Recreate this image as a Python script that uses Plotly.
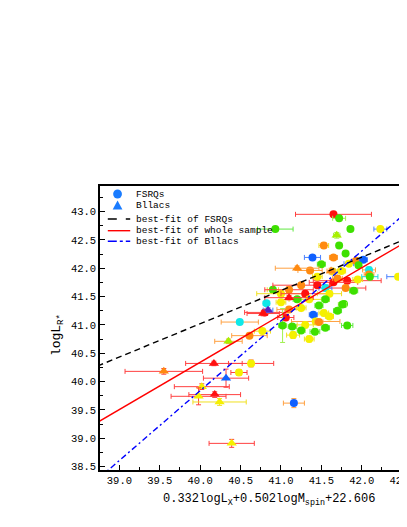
import numpy as np
import plotly.graph_objects as go

# ---------------- data ----------------
# FSRQs (circles)
fsrq_x = [41.65, 41.72, 40.93, 41.86, 42.23, 41.53, 41.72, 41.39, 41.65, 41.80,
          41.50, 41.36, 41.64, 41.84, 41.93, 42.02, 42.09, 42.09, 42.45, 41.96,
          41.82, 41.80, 41.78, 41.82, 41.40, 41.47, 41.76, 41.53, 41.06, 41.42,
          41.43, 41.47, 41.15, 40.82, 40.80, 40.90, 40.49, 40.61, 40.77, 41.02,
          41.14, 40.63, 40.48, 41.16, 41.00, 41.10, 41.25, 41.30, 41.35, 41.20,
          41.55, 41.60, 41.65, 41.70, 41.45, 41.55, 41.10, 41.25, 41.60, 41.70,
          41.30, 41.55, 41.35, 41.25, 41.90, 41.95, 42.10, 41.75, 41.45, 41.00]
fsrq_y = [42.95, 42.88, 42.69, 42.69, 42.69, 42.40, 42.40, 42.19, 42.19, 42.26,
          42.07, 41.96, 41.94, 42.08, 42.13, 42.15, 41.97, 41.89, 41.85, 42.05,
          41.78, 41.65, 41.37, 40.99, 41.18, 41.34, 41.36, 41.21, 41.13, 40.88,
          41.06, 41.05, 40.82, 41.38, 41.22, 41.62, 41.05, 40.81, 40.89, 40.99,
          40.97, 40.32, 40.16, 39.62, 41.55, 41.62, 41.70, 41.55, 41.45, 41.45,
          41.65, 41.55, 41.75, 41.82, 41.85, 41.45, 41.27, 41.30, 41.15, 41.25,
          41.00, 40.95, 40.75, 40.90, 41.60, 41.80, 41.85, 41.95, 41.70, 41.40]
fsrq_xerr = [0.47, 0.08, 0.22, 0.02, 0.08, 0.06, 0.03, 0.10, 0.05, 0.03,
             0.05, 0.15, 0.04, 0.06, 0.05, 0.05, 0.08, 0.06, 0.14, 0.03,
             0.42, 0.25, 0.03, 0.07, 0.05, 0.05, 0.05, 0.06, 0.10, 0.06,
             0.30, 0.05, 0.08, 0.04, 0.25, 0.07, 0.23, 0.22, 0.10, 0.05,
             0.05, 0.28, 0.10, 0.13, 0.30, 0.30, 0.35, 0.30, 0.25, 0.05,
             0.08, 0.15, 0.30, 0.06, 0.06, 0.05, 0.15, 0.06, 0.05, 0.05,
             0.10, 0.05, 0.06, 0.05, 0.05, 0.06, 0.10, 0.05, 0.04, 0.06]
fsrq_yerr = [0.05, 0.04, 0.02, 0.02, 0.04, 0.05, 0.03, 0.03, 0.04, 0.03,
             0.03, 0.04, 0.05, 0.04, 0.03, 0.03, 0.05, 0.04, 0.03, 0.03,
             0.05, 0.04, 0.03, 0.04, 0.03, 0.04, 0.03, 0.05, 0.04, 0.04,
             0.05, 0.04, 0.06, 0.03, 0.05, 0.04, 0.04, 0.04, 0.04, 0.30,
             0.04, 0.06, 0.05, 0.08, 0.04, 0.05, 0.04, 0.05, 0.04, 0.04,
             0.05, 0.04, 0.04, 0.05, 0.04, 0.04, 0.04, 0.04, 0.04, 0.04,
             0.05, 0.04, 0.05, 0.04, 0.04, 0.04, 0.04, 0.04, 0.04, 0.04]
# colour classes: 0 red, 1 orange, 2 yellow, 3 yellow-green, 4 green, 5 cyan, 6 blue, 7 purple
fsrq_cls = [0, 4, 4, 4, 2, 1, 4, 6, 1, 4,
            4, 1, 2, 2, 1, 6, 5, 1, 2, 4,
            0, 1, 4, 4, 6, 4, 4, 2, 0, 4,
            2, 1, 2, 5, 0, 4, 5, 1, 2, 4,
            4, 2, 2, 6, 2, 1, 1, 0, 2, 4,
            5, 2, 0, 1, 2, 4, 1, 2, 2, 4,
            2, 4, 2, 4, 4, 2, 4, 2, 0, 2]
fsrq_ecls = [0, 3, 4, 4, 6, 2, 4, 6, 1, 3,
             4, 1, 2, 6, 1, 6, 1, 1, 6, 4,
             0, 0, 4, 4, 6, 4, 3, 2, 0, 4,
             1, 1, 2, 5, 0, 2, 1, 1, 2, 3,
             4, 0, 0, 1, 2, 0, 0, 0, 2, 4,
             6, 2, 0, 1, 2, 3, 1, 2, 2, 4,
             2, 4, 2, 3, 4, 2, 5, 2, 0, 2]

# BL Lacs (triangles)
bll_x = [41.20, 41.69, 40.35, 40.17, 39.55, 40.32, 40.02, 40.18, 39.98, 40.24,
         40.39, 40.84, 40.78, 41.62, 41.10]
bll_y = [42.00, 42.58, 40.71, 40.32, 40.18, 40.06, 39.91, 39.77, 39.74, 39.64,
         38.91, 41.26, 41.20, 41.95, 41.48]
bll_xerr = [0.27, 0.04, 0.17, 0.35, 0.48, 0.28, 0.34, 0.32, 0.34, 0.33,
            0.28, 0.06, 0.20, 0.05, 0.30]
bll_yerr = [0.04, 0.05, 0.04, 0.04, 0.05, 0.16, 0.05, 0.05, 0.15, 0.06,
            0.07, 0.04, 0.04, 0.05, 0.04]
bll_cls = [1, 3, 3, 0, 1, 6, 2, 0, 2, 2, 2, 7, 0, 1, 0]
bll_ecls = [1, 3, 1, 0, 0, 0, 0, 0, 0, 2, 0, 6, 0, 1, 0]

# best-fit lines: (intercept, slope)
fit_fsrq = (17.54, 0.587)
fit_all = (6.98, 0.834)
fit_bll = (-9.44, 1.232)

x_ticks = [39.0, 39.5, 40.0, 40.5, 41.0, 41.5, 42.0, 42.5]
y_ticks = [38.5, 39.0, 39.5, 40.0, 40.5, 41.0, 41.5, 42.0, 42.5, 43.0]

# ---------------- style ----------------
MARK = ['#ff1010', '#ff8a10', '#f5f000', '#a8f000', '#3ee000', '#10e8e8', '#1060ff', '#5a20c0']
ERR = ['#ff4040', '#ffa040', '#f0e020', '#a0f050', '#60e840', '#20d8d8', '#4a80ff', '#7a50d0']
FONT = 'Liberation Mono'

W, H = 407, 527
L, R, T, B = 92, 0, 178, 65
pw, ph = W - L - R, H - T - B


def px2x(px):
    return (px - L) / pw


def py2y(py):
    return (H - B - py) / ph


fig = go.Figure()


def add_points(xs, ys, xe, ye, cls, ecls, symbol, size):
    for i in range(len(xs)):
        fig.add_trace(go.Scatter(
            x=[xs[i]], y=[ys[i]], mode='markers', showlegend=False,
            marker=dict(color=MARK[cls[i]], size=size, symbol=symbol, line=dict(width=0)),
            error_x=dict(type='data', array=[xe[i]], color=ERR[ecls[i]], thickness=1, width=2.5),
            error_y=dict(type='data', array=[ye[i]], color=ERR[ecls[i]], thickness=1, width=2.5),
            cliponaxis=True,
        ))


add_points(fsrq_x, fsrq_y, fsrq_xerr, fsrq_yerr, fsrq_cls, fsrq_ecls, 'circle', 8)
add_points(bll_x, bll_y, bll_xerr, bll_yerr, bll_cls, bll_ecls, 'triangle-up', 9)

xl = np.array([38.5, 43.0])
for (a, b), col, dash in [(fit_fsrq, 'black', '6px,4px'),
                          (fit_all, '#ff0000', 'solid'),
                          (fit_bll, '#0000ff', '6px,3px,2px,3px')]:
    fig.add_trace(go.Scatter(x=xl, y=a + b * xl, mode='lines', showlegend=False,
                             line=dict(color=col, width=1.4, dash=dash)))

# manual legend
shapes = []
annotations = []
leg_rows = [186, 197, 211, 222.7, 233.3]
leg_text = ['FSRQs', 'Bllacs', 'best-fit of FSRQs', 'best-fit of whole sample', 'best-fit of Bllacs']
shapes.append(dict(type='circle', xref='paper', yref='paper',
                   x0=px2x(105.5), x1=px2x(114.5), y0=py2y(190.5), y1=py2y(181.5),
                   fillcolor='#1a7cff', line=dict(width=0)))
shapes.append(dict(type='path', xref='paper', yref='paper',
                   path='M {:.5f},{:.5f} L {:.5f},{:.5f} L {:.5f},{:.5f} Z'.format(
                       px2x(105), py2y(201.5), px2x(115), py2y(201.5), px2x(110), py2y(192.5)),
                   fillcolor='#1a7cff', line=dict(width=0)))
for yy, col, dash in [(leg_rows[2], 'black', 'dash'), (leg_rows[3], '#ff0000', 'solid'),
                      (leg_rows[4], '#0000ff', 'dashdot')]:
    shapes.append(dict(type='line', xref='paper', yref='paper', x0=px2x(100), x1=px2x(123),
                       y0=py2y(yy), y1=py2y(yy), line=dict(color=col, width=1.4, dash=dash)))
for yy, txt in zip(leg_rows, leg_text):
    annotations.append(dict(text=txt, xref='paper', yref='paper', x=px2x(127), y=py2y(yy),
                            xanchor='left', yanchor='middle', showarrow=False,
                            font=dict(family=FONT, size=9.5, color='black')))

# axis titles
annotations.append(dict(text='0.332logL<sub>X</sub>+0.502logM<sub>spin</sub>+22.606',
                        xref='paper', yref='paper', x=px2x(265.5), y=py2y(491.5),
                        xanchor='center', yanchor='middle', showarrow=False,
                        font=dict(family=FONT, size=12, color='black')))
annotations.append(dict(text='logL<sub>R*</sub>', xref='paper', yref='paper',
                        x=px2x(48), y=py2y(327), textangle=-90,
                        xanchor='center', yanchor='middle', showarrow=False,
                        font=dict(family=FONT, size=13, color='black')))

fig.update_layout(
    width=W, height=H, margin=dict(l=L, r=R, t=T, b=B, pad=0),
    paper_bgcolor='white', plot_bgcolor='white',
    shapes=shapes, annotations=annotations, showlegend=False,
    xaxis=dict(range=[38.76, 42.56], tickmode='array', tickvals=x_ticks,
               ticktext=['%.1f' % v for v in x_ticks],
               ticks='inside', ticklen=5, tickwidth=1, tickcolor='black',
               minor=dict(dtick=0.25, tick0=39.0, ticks='inside', ticklen=3, tickcolor='black'),
               showline=True, linecolor='black', linewidth=1.5, mirror=True,
               showgrid=False, zeroline=False, ticklabeloverflow='allow',
               tickfont=dict(family=FONT, size=10.5, color='black')),
    yaxis=dict(range=[38.44, 43.45], tickmode='array', tickvals=y_ticks,
               ticktext=['%.1f' % v for v in y_ticks],
               ticks='inside', ticklen=5, tickwidth=1, tickcolor='black',
               minor=dict(dtick=0.25, tick0=39.0, ticks='inside', ticklen=3, tickcolor='black'),
               showline=True, linecolor='black', linewidth=1.5,
               showgrid=False, zeroline=False,
               tickfont=dict(family=FONT, size=10.5, color='black')),
)

fig.write_html('out.html')
